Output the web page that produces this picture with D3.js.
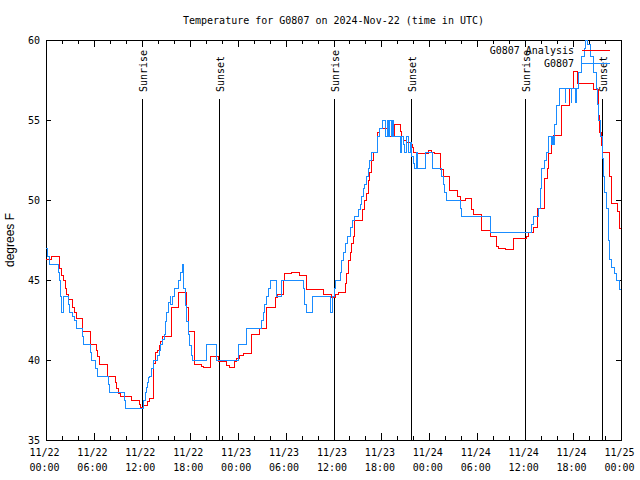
<!DOCTYPE html>
<html><head><meta charset="utf-8">
<script src="https://cdn.jsdelivr.net/npm/d3@7"></script>
<style>body{margin:0;background:#fff}svg{display:block}</style>
</head><body>
<script>
const startTime = Date.UTC(2024, 10, 22, 0, 0);
const titleText = "Temperature for G0807 on 2024-Nov-22 (time in UTC)";
const yLabelText = "degrees F";
const yTicks = [35, 40, 45, 50, 55, 60];
const seriesNames = ["G0807 Analysis", "G0807"];
const seriesColors = ["#ff0000", "#1a8cff"];

// G0807 Analysis (hours since 11/22 00:00 UTC, deg F)
const analysisHours = [0,0.71,1.67,1.97,2.19,2.38,2.57,2.79,3.34,3.57,3.84,4.60,5.60,6.32,6.47,6.64,7.68,8.64,8.83,9.02,9.27,10.68,11.65,11.86,12.27,12.69,13.02,13.52,13.74,13.94,14.15,14.36,14.61,15.74,16.57,17.55,17.82,18.57,19.50,19.70,20.62,21.58,22.63,22.92,23.58,23.88,24.29,24.71,25.76,26.71,27.64,28.68,28.93,29.71,29.84,30.74,31.72,32.65,34.72,35.69,36.19,36.60,37.44,37.63,37.85,38.07,38.28,38.50,38.69,39.61,39.94,40.16,40.36,40.57,40.78,40.98,41.53,41.70,42.86,43.70,44.33,44.54,44.74,45.17,45.58,45.83,45.99,46.42,47.87,48.21,48.62,49.46,49.75,50.50,51.55,51.84,52.47,53.31,53.53,54.56,55.60,56.44,56.72,57.48,58.52,60.19,60.39,61.02,61.57,62.48,62.77,62.90,63.24,63.53,64.57,65.61,66.03,66.58,68.53,69.16,69.37,69.56,69.66,70.62,70.84,71.59,71.75,72];
const analysisTemps = [46.3,46.5,45.7,45.3,45.0,44.5,44.1,43.8,43.3,43.0,42.6,41.8,41.0,40.6,40.2,39.7,39.0,38.6,38.2,37.9,37.75,37.5,37.2,37.05,37.15,37.4,37.6,39.8,40.5,40.6,40.9,41.15,41.45,43.3,44.2,43.3,41.8,39.7,39.6,39.55,40.2,39.9,39.65,39.55,39.9,40.1,40.3,40.4,41.6,42.0,43.3,43.9,44.1,45.0,45.4,45.45,45.3,44.4,44.1,43.9,44.1,44.2,44.8,45.4,46.2,46.7,47.3,47.7,48.75,49.4,50.0,50.4,51.2,51.7,52.5,53.0,54.2,54.5,54.0,54.75,54.3,54.0,53.75,53.6,53.5,53.3,53.0,52.9,53.1,53.0,52.9,51.9,51.5,50.6,50.2,50.0,50.1,49.4,49.1,48.1,47.7,47.1,47.0,46.9,47.6,47.7,48.0,48.3,49.5,51.35,52.0,52.9,53.5,54.06,55.9,57.0,58.06,57.3,56.9,55.3,54.2,53.4,53.0,51.5,49.8,49.3,48.2,48.2];

// G0807 observations
const obsHours = [0,0.19,0.5,1.57,1.69,1.79,1.88,2.0,2.13,2.79,2.94,3.26,3.51,3.82,4.60,4.70,5.60,5.70,6.22,6.45,7.80,7.95,9.77,9.96,12.27,12.40,12.56,12.68,12.81,13.02,13.27,13.46,13.94,14.15,14.36,14.56,14.78,14.99,15.15,15.34,15.53,15.65,15.78,16.15,16.57,16.84,17.07,17.19,17.41,17.62,17.82,18.03,18.25,18.37,20.12,21.29,24.08,25.13,27.01,27.24,27.42,27.64,27.84,28.05,28.89,29.52,32.22,32.43,32.65,33.40,35.65,35.85,36.10,36.25,36.82,37.03,37.26,37.44,37.75,38.07,38.44,38.69,39.11,39.32,39.53,39.76,39.94,40.16,40.36,40.57,40.78,41.53,41.82,42.08,42.57,42.70,42.89,43.01,43.20,43.33,43.49,44.33,44.54,44.74,44.95,45.17,45.37,45.58,45.79,45.99,46.20,46.35,46.52,47.55,48.37,49.55,49.75,49.96,50.17,51.84,52.05,55.60,60.82,61.02,61.65,61.86,62.07,62.48,62.69,62.90,63.24,63.43,63.55,63.65,63.95,64.36,64.99,65.11,65.74,65.86,66.31,66.41,66.66,67.08,67.37,67.50,67.83,68.12,68.54,68.87,69.04,69.21,69.46,69.66,69.81,69.94,70.18,70.41,70.62,70.84,71.16,71.46,71.75,72];
const obsTemps = [47.0,46.5,46.0,45.5,45.0,44.0,43.5,43.0,44.0,43.5,43.0,42.7,42.5,42.0,41.5,41.0,40.5,40.0,39.5,39.0,38.5,38.0,37.5,37.0,37.5,38.0,38.3,38.6,38.9,39.0,39.5,40.0,40.3,40.6,41.0,41.3,41.6,42.4,43.0,43.6,44.0,43.5,44.0,44.5,45.0,45.5,46.0,44.5,43.4,42.4,41.6,40.9,40.3,40.0,41.0,40.0,41.0,42.0,42.5,43.0,43.5,44.0,44.5,45.0,44.0,45.0,44.5,43.5,43.0,44.0,43.0,44.0,44.5,45.0,45.5,46.2,46.7,47.3,47.7,48.3,48.7,49.0,49.4,49.7,50.2,50.7,51.0,51.5,52.0,52.5,53.0,54.0,54.5,55.0,54.0,55.0,54.0,55.0,54.0,55.0,54.0,53.0,54.0,53.5,53.0,54.0,53.0,53.6,52.7,52.3,52.0,53.0,52.0,53.0,52.0,51.5,51.0,50.5,50.0,49.5,49.0,48.0,48.5,49.0,49.5,50.7,52.0,52.5,53.0,54.0,53.5,54.0,53.5,54.7,55.9,57.0,56.1,57.0,56.1,57.0,56.1,57.0,58.0,59.0,59.5,60.0,59.7,59.0,58.0,57.0,56.0,55.0,54.0,52.6,51.5,50.5,49.5,47.5,46.3,45.8,45.4,45.0,44.4,44.0];

// Sunrise / sunset (hours since start)
const eventHours = [12.05, 21.70, 36.08, 45.74, 60.03, 69.66];
const eventLabels = ["Sunrise", "Sunset", "Sunrise", "Sunset", "Sunrise", "Sunset"];

const W = 640, H = 480, L = 46, R = 621, T = 40, B = 440;
const mono = "'DejaVu Sans Mono', 'Liberation Mono', monospace";
const toDate = h => new Date(startTime + h * 3600e3);

const svg = d3.select("body").append("svg").attr("width", W).attr("height", H)
  .style("font-family", mono);

const x = d3.scaleUtc().domain([toDate(0), toDate(72)]).range([L, R]);
const y = d3.scaleLinear().domain([35, 60]).range([B, T]);

svg.append("defs").append("clipPath").attr("id", "clip")
  .append("rect").attr("x", L).attr("y", T - 1).attr("width", R - L).attr("height", B - T + 1);

function styleAxis(g) {
  g.select(".domain").remove();
  g.selectAll(".tick line").attr("stroke", "#000").attr("shape-rendering", "crispEdges");
  g.selectAll("text").attr("font-family", mono).attr("font-size", 10).attr("fill", "#000");
}
svg.append("g").attr("transform", `translate(0,${B})`)
  .call(d3.axisBottom(x).ticks(d3.utcHour.every(2)).tickSize(-4).tickFormat(""))
  .call(styleAxis);
svg.append("g").attr("transform", `translate(0,${T})`)
  .call(d3.axisTop(x).ticks(d3.utcHour.every(2)).tickSize(-4).tickFormat(""))
  .call(styleAxis);
svg.append("g").attr("transform", `translate(0,${T})`)
  .call(d3.axisTop(x).ticks(d3.utcHour.every(6)).tickSize(-7).tickFormat(""))
  .call(styleAxis);
const fmtDay = d3.utcFormat("%m/%d"), fmtTime = d3.utcFormat("%H:%M");
const xMajor = svg.append("g").attr("transform", `translate(0,${B})`)
  .call(d3.axisBottom(x).ticks(d3.utcHour.every(6)).tickSize(-7).tickFormat(fmtDay))
  .call(styleAxis);
xMajor.selectAll(".tick text").each(function (d) {
  const t = d3.select(this);
  t.text(null).attr("y", 0).attr("dy", null);
  t.append("tspan").attr("x", -2).attr("y", 16).text(fmtDay(d));
  t.append("tspan").attr("x", -2).attr("y", 31).text(fmtTime(d));
});
svg.append("g").attr("transform", `translate(${L},0)`)
  .call(d3.axisLeft(y).tickValues(yTicks).tickSize(-5).tickPadding(6).tickFormat(d3.format("d")))
  .call(styleAxis);
svg.append("g").attr("transform", `translate(${R},0)`)
  .call(d3.axisRight(y).tickValues(yTicks).tickSize(-5).tickFormat(""))
  .call(styleAxis);

svg.append("rect").attr("x", L).attr("y", T).attr("width", R - L).attr("height", B - T)
  .attr("fill", "none").attr("stroke", "#000").attr("shape-rendering", "crispEdges");

const ev = svg.append("g");
eventHours.forEach((h, i) => {
  const xx = x(toDate(h));
  ev.append("line").attr("x1", xx).attr("x2", xx).attr("y1", 99).attr("y2", B)
    .attr("stroke", "#000").attr("shape-rendering", "crispEdges");
  ev.append("text").attr("transform", `translate(${xx + 5},92) rotate(-90)`)
    .attr("font-size", 10).attr("text-anchor", "start").text(eventLabels[i]);
});

const line = d3.line().curve(d3.curveStepAfter).x(d => x(toDate(d[0]))).y(d => y(d[1]));
const analysisData = analysisHours.map((h, i) => [h, analysisTemps[i]]);
const obsData = obsHours.map((h, i) => [h, obsTemps[i]]);
const plot = svg.append("g").attr("clip-path", "url(#clip)");
[analysisData, obsData].forEach((data, i) => {
  plot.append("path").datum(data).attr("d", line).attr("fill", "none")
    .attr("stroke", seriesColors[i]).attr("stroke-width", 1)
    .attr("shape-rendering", "crispEdges");
});

seriesNames.forEach((name, i) => {
  const ly = 50 + i * 13;
  svg.append("text").attr("x", 574).attr("y", ly).attr("dy", "0.35em")
    .attr("text-anchor", "end").attr("font-size", 10).text(name);
  svg.append("line").attr("x1", 582).attr("x2", 610).attr("y1", ly).attr("y2", ly)
    .attr("stroke", seriesColors[i]).attr("shape-rendering", "crispEdges");
});

svg.append("text").attr("x", (L + R) / 2).attr("y", 20).attr("dy", "0.35em")
  .attr("text-anchor", "middle").attr("font-size", 10).text(titleText);
svg.append("text").attr("transform", `translate(14,240) rotate(-90)`)
  .attr("text-anchor", "middle").attr("font-family", "'Liberation Sans', Arial, sans-serif")
  .attr("font-size", 12).text(yLabelText);
</script>
</body></html>
